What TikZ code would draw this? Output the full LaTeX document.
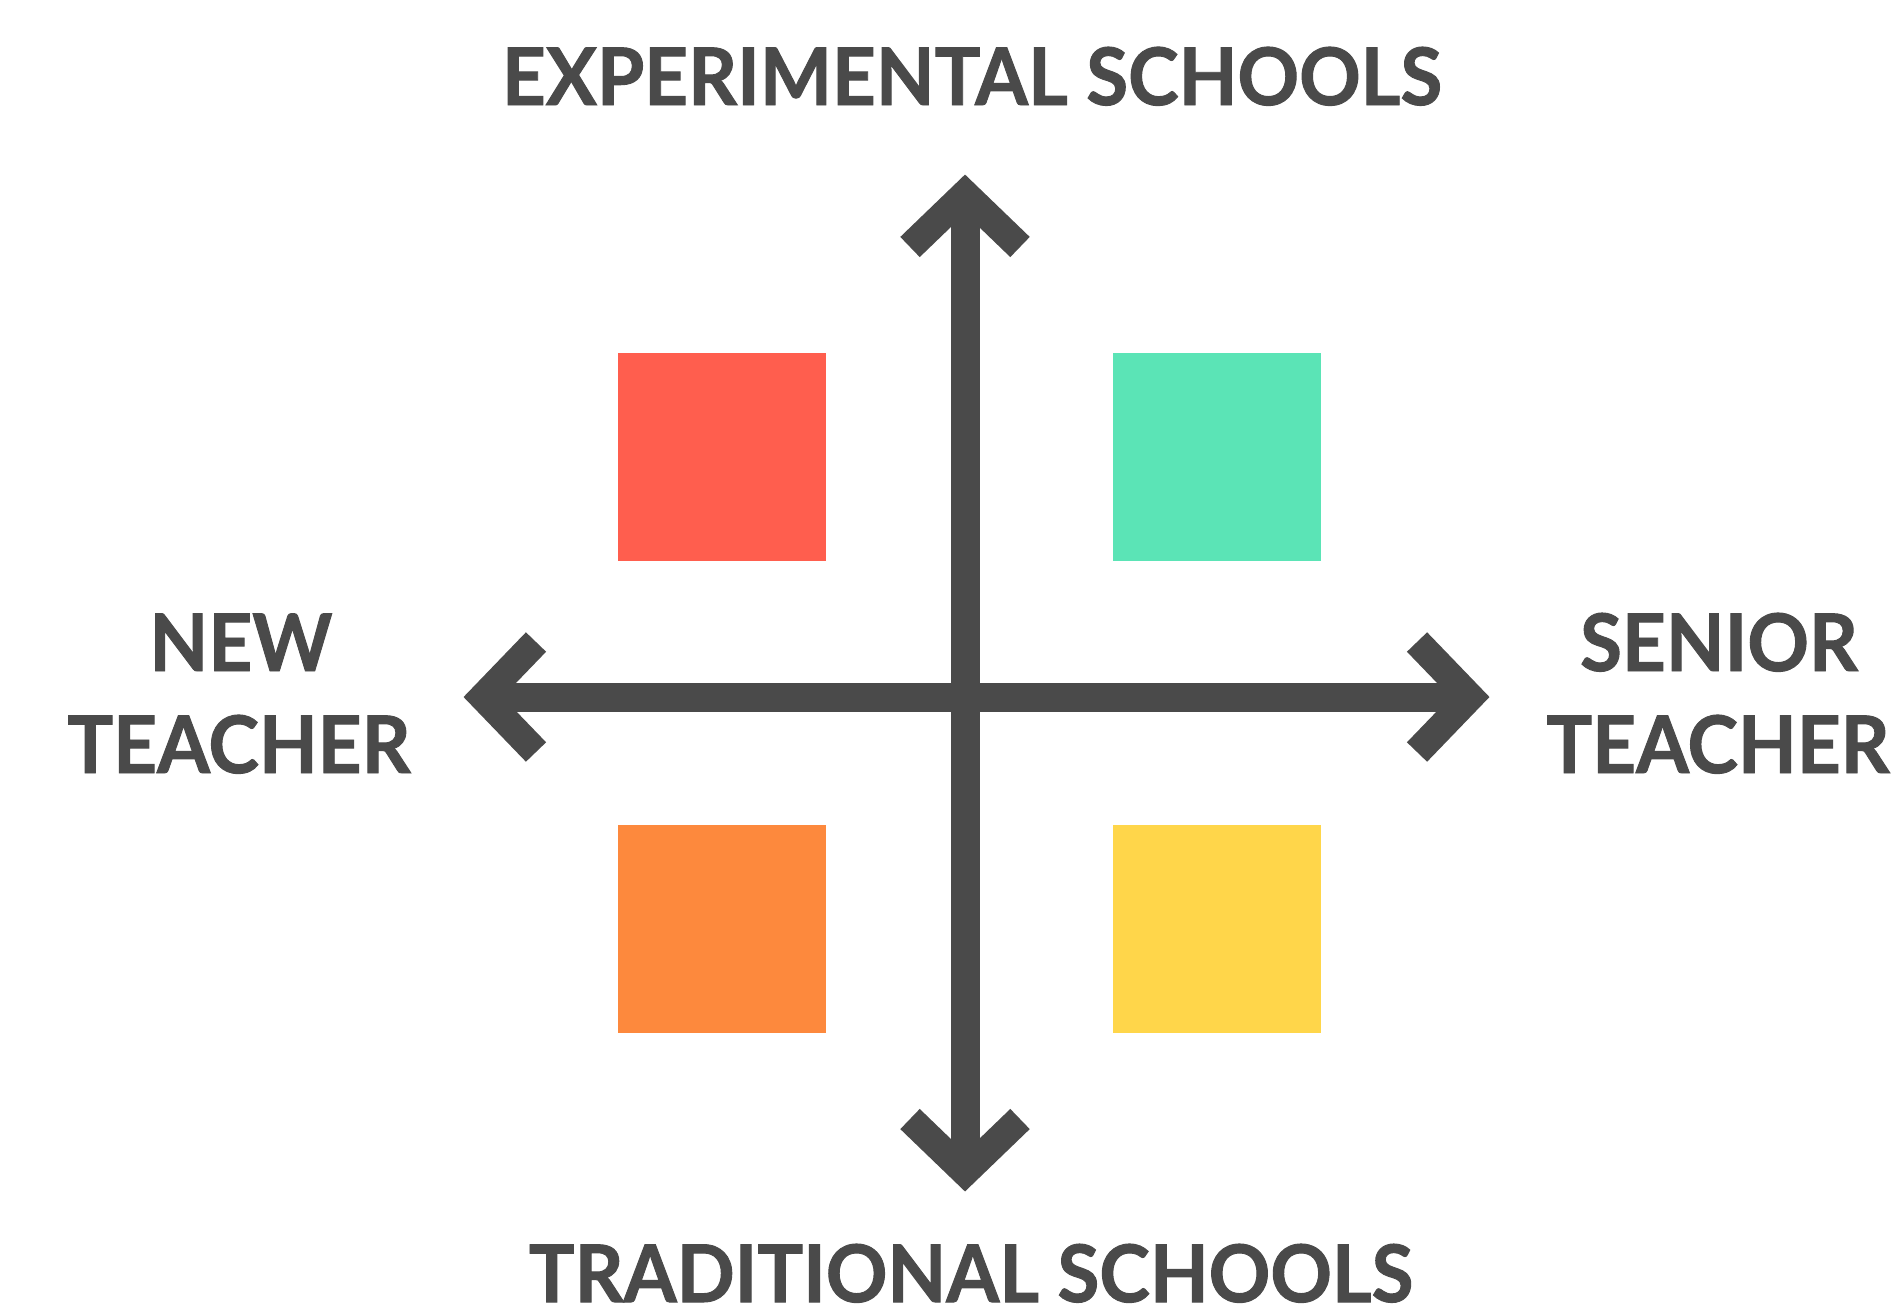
\documentclass[tikz,border=0pt]{standalone}
\usepackage{fontspec}
\usepackage{tikz}
\newfontfamily\axisfont{Lato}[FakeStretch=0.96, BoldFeatures={FakeBold=1.2}]
\definecolor{axisgray}{HTML}{4A4A4A}
\definecolor{quadred}{HTML}{FF5E4E}
\definecolor{quadgreen}{HTML}{5BE4B6}
\definecolor{quadorange}{HTML}{FD893D}
\definecolor{quadyellow}{HTML}{FFD64A}

\begin{document}
\begin{tikzpicture}[x=0.01cm, y=-0.01cm,
	axisline/.style={axisgray, line width=0.29cm},
	chevron/.style={axisgray, line width=0.28cm, line join=miter, line cap=butt},
	axislabel/.style={text=axisgray, font=\axisfont\bfseries\fontsize{22.6}{27}\selectfont, inner sep=0pt, anchor=base},
	quadbox/.style={minimum size=2.08cm, inner sep=0pt, anchor=north west}]
	%% frame
	\useasboundingbox (0,0) rectangle (1895,1306);
	%% quadrants
	\node[quadbox, fill=quadred] (red) at (617,352) {};
	\node[quadbox, fill=quadgreen] (green) at (1112,352) {};
	\node[quadbox, fill=quadorange] (orange) at (617,824) {};
	\node[quadbox, fill=quadyellow] (yellow) at (1112,824) {};
	%% axes
	\coordinate (c) at (965,697);
	\coordinate (top) at (965,194);
	\coordinate (bottom) at (965,1172);
	\coordinate (left) at (483,697);
	\coordinate (right) at (1470,697);
	\draw[axisline] (c) -- (top);
	\draw[axisline] (c) -- (bottom);
	\draw[axisline] (c) -- (left);
	\draw[axisline] (c) -- (right);
	%% arrow heads
	\draw[chevron] ([shift={(-55,53)}]top) -- (top) -- ([shift={(55,53)}]top);
	\draw[chevron] ([shift={(-55,-53)}]bottom) -- (bottom) -- ([shift={(55,-53)}]bottom);
	\draw[chevron] ([shift={(53,-55)}]left) -- (left) -- ([shift={(53,55)}]left);
	\draw[chevron] ([shift={(-53,-55)}]right) -- (right) -- ([shift={(-53,55)}]right);
	%% labels
	\node[axislabel] (exp) at (972,105) {EXPERIMENTAL SCHOOLS};
	\node[axislabel] (trad) at (971,1302) {TRADITIONAL SCHOOLS};
	\node[axislabel] (new) at (241,671) {NEW};
	\node[axislabel] (newt) at (239,773) {TEACHER};
	\node[axislabel] (sen) at (1719,671) {SENIOR};
	\node[axislabel] (sent) at (1718,773) {TEACHER};
\end{tikzpicture}
\end{document}
